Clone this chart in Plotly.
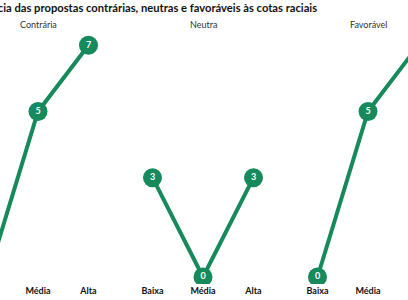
import plotly.graph_objects as go

categories = ["Baixa", "Média", "Alta"]
facets = ["Contrária", "Neutra", "Favorável"]
contraria = [0, 5, 7]
neutra = [3, 0, 3]
favoravel = [0, 5, 7]
series = [contraria, neutra, favoravel]
title = "Frequência das propostas contrárias, neutras e favoráveis às cotas raciais"

GREEN = "#178a5c"
W, H = 408, 300

fig = go.Figure()

# pixel layout of each facet (centre on "Média", 165px wide, 50.5px per category)
step = 50.5
half = 82.5
centres = [38, 203, 368]
axis_names = ["", "2", "3"]
for i, (name, vals) in enumerate(zip(facets, series)):
    c = centres[i]
    left = max(0, c - half)
    right = min(W, c + half)
    r0 = 1 - (c - left) / step
    r1 = 1 + (right - c) / step
    fig.add_trace(go.Scatter(
        x=categories, y=vals, mode="lines+markers+text",
        text=[str(v) for v in vals], textposition="middle center",
        textfont=dict(family="Lato", size=9, color="white", weight="bold"),
        line=dict(color=GREEN, width=4),
        marker=dict(color=GREEN, size=19, line=dict(width=0)),
        xaxis="x" + axis_names[i], yaxis="y" + axis_names[i],
        showlegend=False, hoverinfo="skip", cliponaxis=True,
    ))
    xa = dict(domain=[left / W, right / W], range=[r0, r1], type="category",
              categoryorder="array", categoryarray=categories,
              showgrid=False, zeroline=False, showline=False, ticks="",
              tickfont=dict(family="Lato", size=9, color="#111", weight="bold"),
              automargin=False, fixedrange=True,
              anchor="y" + axis_names[i])
    ya = dict(range=[-0.211, 7.462], visible=False, fixedrange=True,
              anchor="x" + axis_names[i])
    fig.update_layout(**{"xaxis" + axis_names[i]: xa, "yaxis" + axis_names[i]: ya})
    fig.add_annotation(x="Média", xref="x" + axis_names[i], y=1.0197, yref="paper",
                       text=name, showarrow=False, xanchor="center", yanchor="middle",
                       font=dict(family="Lato", size=9, color="#333"))

fig.add_annotation(x=319 / W, xref="paper", y=(284 - 8) / 254, yref="paper",
                   text=title, showarrow=False, xanchor="right", yanchor="middle",
                   font=dict(family="Lato", size=11.2, color="#111", weight="bold"))

fig.update_layout(width=W, height=H, margin=dict(l=0, r=0, t=30, b=16),
                  paper_bgcolor="white", plot_bgcolor="white")

fig.write_html("out.html")
